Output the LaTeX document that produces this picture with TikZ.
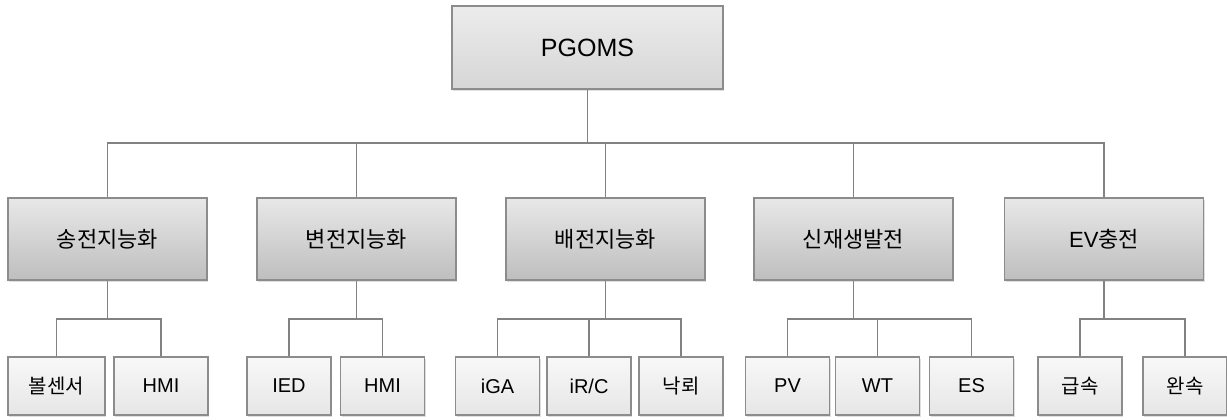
\documentclass[tikz,border=0pt]{standalone}
\usepackage{fontspec}
\setmainfont{Liberation Sans}
\newfontfamily\kr{Noto Sans CJK KR}
\usetikzlibrary{shadows}
\definecolor{boxline}{RGB}{140,140,140}
\definecolor{wireline}{RGB}{130,130,130}
\tikzset{
  rootbox/.style={draw=boxline, line width=1.2pt, top color={rgb,255:red,236;green,236;blue,236}, bottom color={rgb,255:red,214;green,214;blue,214},
    minimum width=271pt, minimum height=83pt, inner sep=0pt, font=\fontsize{25}{30}\selectfont,
    drop shadow={shadow xshift=1pt, shadow yshift=-2pt, opacity=0.25}},
  groupbox/.style={draw=boxline, line width=1.2pt, top color={rgb,255:red,232;green,232;blue,232}, bottom color={rgb,255:red,190;green,190;blue,190},
    minimum width=199pt, minimum height=82pt, inner sep=0pt, font=\fontsize{22}{26}\selectfont,
    drop shadow={shadow xshift=1pt, shadow yshift=-2pt, opacity=0.25}},
  leafbox/.style={draw=boxline, line width=1.2pt, top color={rgb,255:red,248;green,248;blue,248}, bottom color={rgb,255:red,230;green,230;blue,230},
    minimum width=84pt, minimum height=58pt, inner sep=0pt, font=\fontsize{20}{24}\selectfont,
    drop shadow={shadow xshift=1pt, shadow yshift=-2pt, opacity=0.25}},
  wire/.style={draw=wireline, line width=1.2pt}
}
\begin{document}
\begin{tikzpicture}[x=1pt,y=1pt,yscale=-1,xscale=1]
\useasboundingbox[fill=white] (0,0) rectangle (1227,420);
% root
\node [rootbox] (pgoms) at (587.5,47.5) {PGOMS};
% second level
\node [groupbox] (tx) at (107.5,239) {\kr 송전지능화};
\node [groupbox] (sub) at (356.5,239) {\kr 변전지능화};
\node [groupbox] (dist) at (605.5,239) {\kr 배전지능화};
\node [groupbox] (ren) at (853.5,239) {\kr 신재생발전};
\node [groupbox] (ev) at (1104,239) {EV{\kr 충전}};
% leaves
\node [leafbox, minimum width=97pt] (txbol) at (56.5,386) {\kr 볼센서};
\node [leafbox, minimum width=94pt] (txhmi) at (161,386) {HMI};
\node [leafbox] (subied) at (289,386) {IED};
\node [leafbox] (subhmi) at (382.5,386) {HMI};
\node [leafbox] (distiga) at (497.5,386) {iGA};
\node [leafbox] (distirc) at (589,386) {iR/C};
\node [leafbox] (distnak) at (681,386) {\kr 낙뢰};
\node [leafbox] (renpv) at (787.5,386) {PV};
\node [leafbox] (renwt) at (877.5,386) {WT};
\node [leafbox] (rence) at (971.5,386) {ES};
\node [leafbox] (evfast) at (1080,386) {\kr 급속};
\node [leafbox] (evslow) at (1185,386) {\kr 완속};
% bus points
\coordinate (busroot) at (587.5,143);
\coordinate (bustx) at (107.5,319);
\coordinate (bussub) at (356.5,319);
\coordinate (busdist) at (605.5,319);
\coordinate (busren) at (853.5,319);
\coordinate (busev) at (1104,319);
% connectors
\draw [wire] (pgoms.south) -- (busroot);
\foreach \g in {tx,sub,dist,ren,ev}
  \draw [wire] (\g.north) |- (busroot);
\foreach \g in {tx,sub,dist,ren,ev}
  \draw [wire] (\g.south) -- (bus\g);
\foreach \l in {txbol,txhmi} \draw [wire] (\l.north) |- (bustx);
\foreach \l in {subied,subhmi} \draw [wire] (\l.north) |- (bussub);
\foreach \l in {distiga,distirc,distnak} \draw [wire] (\l.north) |- (busdist);
\foreach \l in {renpv,renwt,rence} \draw [wire] (\l.north) |- (busren);
\foreach \l in {evfast,evslow} \draw [wire] (\l.north) |- (busev);
\end{tikzpicture}
\end{document}
